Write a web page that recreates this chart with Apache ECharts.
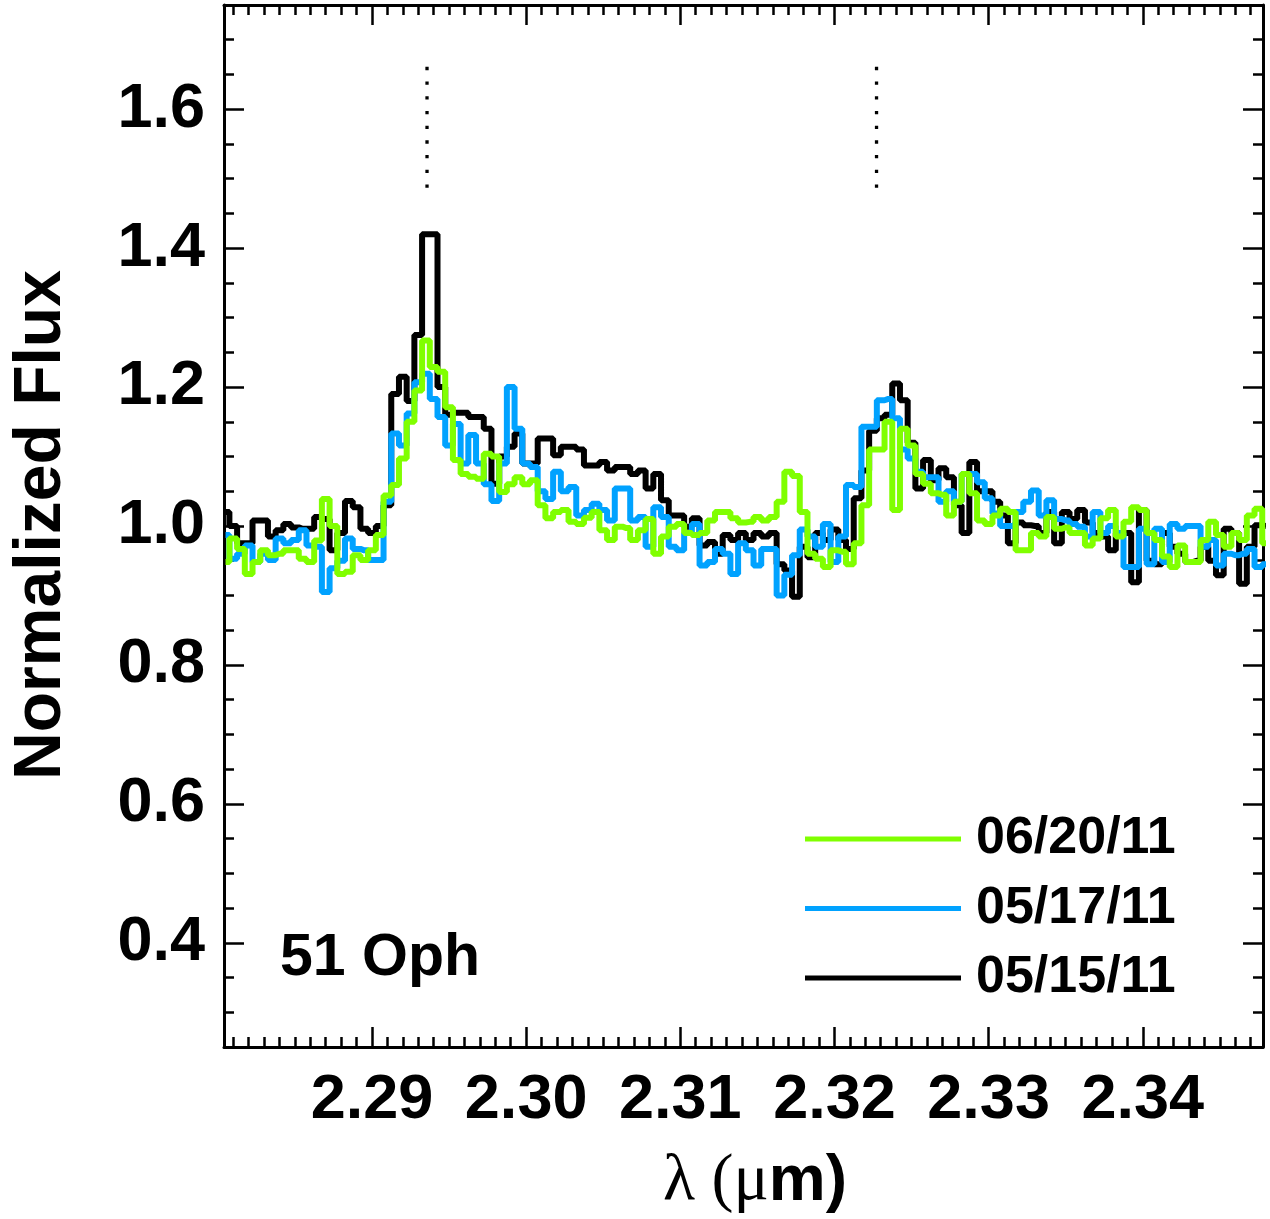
<!DOCTYPE html>
<html><head><meta charset="utf-8">
<script src="https://cdn.jsdelivr.net/npm/echarts@6/dist/echarts.min.js"></script>
<style>html,body{margin:0;padding:0;background:#fff}#c{width:1270px;height:1219px}</style>
</head><body><div id="c"></div><script>
// wavelength grid of the spectra (micron)
const lambdaStart = 2.2805;
const lambdaStep = 0.0005;

const flux0515 = [1.02,1.00,0.975,0.975,1.008,1.008,0.985,0.994,1.003,0.998,0.996,0.996,1.013,1.01,0.965,0.99,1.036,1.027,0.996,0.99,
1.0,1.03,1.19,1.215,1.18,1.275,1.42,1.42,1.20,1.16,1.163,1.163,1.157,1.157,1.14,1.061,1.10,1.114,1.133,1.09,
1.09,1.126,1.126,1.102,1.114,1.114,1.11,1.087,1.087,1.092,1.08,1.085,1.085,1.075,1.08,1.054,1.075,1.037,1.015,1.015,
0.999,1.011,0.972,0.977,0.96,0.987,0.98,0.99,0.98,0.99,0.985,0.99,0.945,0.936,0.898,0.97,0.955,0.99,0.98,0.995,
0.98,0.967,1.04,1.08,1.137,1.155,1.16,1.205,1.181,1.12,1.054,1.095,1.066,1.083,1.07,1.03,0.99,1.092,1.05,1.05,
1.035,1.015,0.975,1.005,1.001,1.0,0.99,1.02,0.975,1.02,1.01,1.023,1.005,0.99,0.985,0.965,0.99,0.99,0.919,1.023,
0.95,0.945,0.99,0.97,0.96,0.948,0.95,0.97,0.95,0.929,0.996,0.99,0.917,0.97,1.001,1.0];

const flux0517 = [0.987,0.953,0.96,0.972,0.948,0.96,0.951,0.982,0.975,0.98,0.994,0.972,0.97,0.905,0.939,0.95,0.982,0.967,0.965,0.951,
0.951,1.035,1.133,1.116,1.162,1.207,1.219,1.183,1.157,1.116,1.147,1.09,1.131,1.09,1.06,1.036,1.09,1.2,1.14,1.09,
1.085,1.05,1.039,1.078,1.05,1.056,1.015,1.023,1.032,1.023,1.008,1.054,1.054,1.008,1.013,0.97,1.027,1.013,0.97,0.965,
0.99,1.003,0.943,0.948,0.967,0.96,0.931,0.975,0.965,0.943,0.967,0.967,0.9,0.93,0.958,0.995,0.985,0.97,1.003,0.948,
0.985,1.059,1.056,1.143,1.143,1.181,1.183,1.155,1.11,1.097,1.078,1.07,1.07,1.035,1.05,1.035,1.075,1.075,1.063,1.04,
1.018,1.0,1.0,1.02,1.035,1.051,1.015,1.037,1.01,1.008,1.003,0.999,0.985,1.02,0.99,1.0,0.99,0.941,0.941,0.996,
0.945,0.996,0.948,1.003,0.996,1.0,1.0,0.97,0.98,0.943,0.96,0.958,0.96,0.967,0.941,0.945];

const flux0620 = [0.948,0.982,0.967,0.931,0.948,0.965,0.958,0.96,0.965,0.965,0.953,0.948,0.979,1.039,1.0,0.931,0.934,0.958,0.951,0.965,
0.987,1.044,1.059,1.097,1.15,1.195,1.267,1.229,1.222,1.171,1.095,1.075,1.071,1.068,1.104,1.1,1.049,1.06,1.07,1.06,
1.066,1.03,1.011,1.02,1.023,1.006,1.003,1.012,1.02,0.994,0.98,0.999,0.997,0.98,0.994,1.01,0.96,0.985,0.999,1.003,
0.99,0.987,0.99,1.008,1.02,1.02,1.011,1.005,1.006,1.013,1.008,1.013,1.035,1.078,1.072,1.02,0.96,0.953,0.941,0.965,
0.963,0.945,0.975,1.03,1.11,1.11,1.15,1.023,1.14,1.116,1.075,1.061,1.047,1.045,1.015,1.035,1.075,1.047,1.008,1.003,
1.015,1.025,1.02,0.965,0.965,0.99,0.985,1.013,0.996,0.998,0.99,0.99,0.972,0.982,1.011,1.023,0.985,1.006,1.027,1.023,
0.99,0.98,0.956,0.941,0.972,0.948,0.948,0.98,1.006,0.987,0.97,0.99,0.98,1.015,1.025,0.975];

const seriesNames = ['05/15/11', '05/17/11', '06/20/11'];
const legendOrder = ['06/20/11', '05/17/11', '05/15/11'];
const xMajorTicks = [2.29, 2.30, 2.31, 2.32, 2.33, 2.34];
const yMajorTicks = [0.4, 0.6, 0.8, 1.0, 1.2, 1.4, 1.6];
const bandheads = [2.29357, 2.32273];
const bandheadSpan = [1.661, 1.487];
const starName = '51 Oph';

const X_MIN = 2.2804, X_MAX = 2.3478, Y_MIN = 0.25, Y_MAX = 1.75;
const xMinor = []; for (let k = 2281; k <= 2347; k++) xMinor.push(k / 1000);
const yMinor = []; for (let k = 6; k <= 34; k++) yMinor.push(k * 5 / 100);

function pairs(arr) { return arr.map((v, i) => [lambdaStart + i * lambdaStep, v]); }

const FONT = '"Liberation Sans", Arial, Helvetica, sans-serif';
const AX = '#000';
const LINE_W = 6;

function xAx(pos, ticks, len, showLine, labels) {
  return {
    type: 'value', position: pos, min: X_MIN, max: X_MAX, gridIndex: 0,
    axisLine: { show: showLine, onZero: false, lineStyle: { color: AX, width: 3 } },
    axisTick: { show: true, inside: true, length: len, customValues: ticks, lineStyle: { color: AX, width: 2.5 } },
    axisLabel: labels ? { show: true, customValues: xMajorTicks, formatter: v => v.toFixed(2), margin: 22,
      color: '#000', fontFamily: FONT, fontWeight: 'bold', fontSize: 63 } : { show: false },
    splitLine: { show: false }
  };
}
function yAx(pos, ticks, len, showLine, labels) {
  return {
    type: 'value', position: pos, min: Y_MIN, max: Y_MAX, gridIndex: 0,
    axisLine: { show: showLine, onZero: false, lineStyle: { color: AX, width: 3 } },
    axisTick: { show: true, inside: true, length: len, customValues: ticks, lineStyle: { color: AX, width: 2.5 } },
    axisLabel: labels ? { show: true, customValues: yMajorTicks, formatter: v => v.toFixed(1), margin: 19,
      color: '#000', fontFamily: FONT, fontWeight: 'bold', fontSize: 63 } : { show: false },
    splitLine: { show: false }
  };
}

const colors = { '05/15/11': '#000000', '05/17/11': '#00a2ff', '06/20/11': '#80ff00' };
const dataMap = { '05/15/11': flux0515, '05/17/11': flux0517, '06/20/11': flux0620 };

const series = seriesNames.map((n, k) => ({
  type: 'line', name: n, data: pairs(dataMap[n]), step: 'middle', symbol: 'none', showSymbol: false,
  lineStyle: { width: LINE_W, color: colors[n] }, itemStyle: { color: colors[n] },
  emphasis: { disabled: true }, z: 2 + k, clip: true, silent: true
}));
bandheads.forEach(b => series.push({
  type: 'line', data: bandheadSpan.map(y => [b, y]), symbol: 'none', silent: true,
  lineStyle: { color: '#000', width: 3.3, type: [3.3, 11.4], cap: 'butt' }, z: 1
}));

const chart = echarts.init(document.getElementById('c'), null, { renderer: 'canvas' });
chart.setOption({
  animation: false,
  backgroundColor: '#fff',
  grid: { left: 224, top: 5, width: 1039, height: 1042, containLabel: false },
  xAxis: [xAx('bottom', xMajorTicks, 20, true, true), xAx('bottom', xMinor, 10, false, false),
          xAx('top', xMajorTicks, 20, true, false), xAx('top', xMinor, 10, false, false)],
  yAxis: [yAx('left', yMajorTicks, 20, true, true), yAx('left', yMinor, 10, false, false),
          yAx('right', yMajorTicks, 20, true, false), yAx('right', yMinor, 10, false, false)],
  legend: {
    data: legendOrder, orient: 'vertical', left: 800, top: 808, itemGap: 17.5,
    icon: 'rect', itemWidth: 156, itemHeight: 5, selectedMode: false,
    textStyle: { color: '#000', fontFamily: FONT, fontWeight: 'bold', fontSize: 52, lineHeight: 52, padding: [0, 0, 0, 10] }
  },
  graphic: [
    { type: 'text', x: 42, y: 525, rotation: Math.PI / 2,
      style: { text: 'Normalized Flux', fill: '#000', font: 'bold 66px ' + FONT, align: 'center', verticalAlign: 'middle' } },
    { type: 'text', x: 280, y: 959,
      style: { text: starName, fill: '#000', font: 'bold 59px ' + FONT, align: 'left', verticalAlign: 'middle' } },
    { type: 'text', x: 755, y: 1182,
      style: { text: '{a|λ (μ}{b|m)}', align: 'center', verticalAlign: 'middle',
        rich: { a: { fontFamily: '"Liberation Serif", "DejaVu Serif", serif', fontSize: 66, fill: '#000', color: '#000' },
                b: { fontFamily: FONT, fontWeight: 'bold', fontSize: 64, fill: '#000', color: '#000' } } } }
  ],
  series: series
});
</script></body></html>
